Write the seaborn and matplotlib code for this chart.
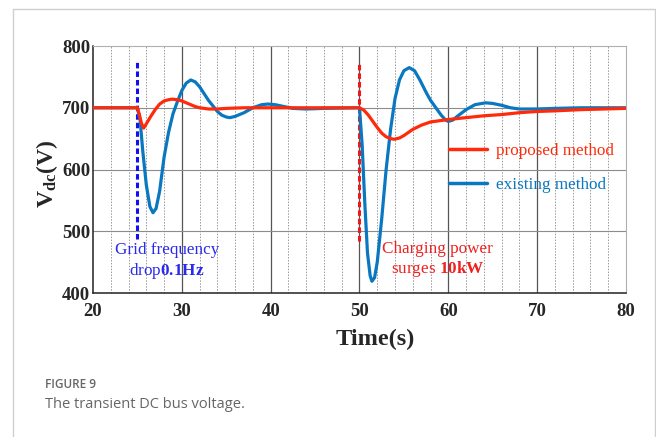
import numpy as np
import pandas as pd
import seaborn as sns
import matplotlib.pyplot as plt
from matplotlib.lines import Line2D

# existing method (blue)
t_existing = [20, 25.0, 25.3, 25.6, 26.0, 26.4, 26.75, 27.1, 27.5, 28.0, 28.5, 29.0, 29.5,
              30.0, 30.5, 31.0, 31.5, 32.0, 32.5, 33.0, 33.5, 34.0, 34.5, 35.0, 35.4,
              36.0, 37.0, 38.0, 39.0, 39.7, 40.5, 41.5, 42.5, 44.0, 46.0,
              50.0, 50.3, 50.6, 50.9, 51.2, 51.4, 51.7, 52.0, 52.5, 53.0, 53.5, 54.0,
              54.5, 55.0, 55.6, 56.2, 56.8, 57.5, 58.0, 58.6, 59.2, 59.7, 60.0, 60.5,
              61.0, 62.0, 63.0, 64.2, 65.0, 66.0, 67.0, 68.0, 70.0, 72.0, 75.0, 80.0]
v_existing = [700, 700, 680, 630, 575, 540, 530, 537, 565, 620, 660, 690, 710,
              728, 740, 745, 742, 734, 723, 712, 703, 694, 688, 685, 684,
              686, 692, 700, 705, 706, 705, 702, 699, 698, 699,
              700, 640, 545, 465, 428, 419, 425, 450, 520, 600, 665, 715,
              745, 760, 765, 760, 745, 725, 712, 700, 688, 680, 678, 680,
              686, 697, 705, 708, 707, 704, 700, 698, 698, 699, 700, 700]

# proposed method (red)
t_proposed = [20, 25.0, 25.2, 25.45, 25.7, 26.0, 26.5, 27.0, 27.5, 28.0, 28.5, 28.9,
              29.5, 30.0, 30.5, 31.0, 31.5, 32.0, 33.0, 34.0, 35.0, 37.0, 40.0,
              50.0, 50.5, 51.0, 51.5, 52.0, 52.5, 53.0, 53.5, 53.9, 54.5, 55.0, 55.5,
              56.0, 57.0, 58.0, 59.0, 60.0, 62.0, 64.0, 66.0, 68.0, 70.0, 72.0, 75.0, 80.0]
v_proposed = [700, 700, 690, 675, 667, 674, 686, 697, 706, 711, 713, 714,
              713, 711, 708, 705, 702, 700, 698, 698, 699, 700, 700,
              700, 696, 688, 678, 668, 659, 653, 650, 649, 651, 655, 660,
              665, 672, 677, 679, 681, 684, 687, 689, 692, 694, 695, 697, 699]

methods = ["proposed method", "existing method"]
colors = ["#ff2a0a", "#0a78c0"]
x_ticks = [20, 30, 40, 50, 60, 70, 80]
y_ticks = [400, 500, 600, 700, 800]

df = pd.concat([
    pd.DataFrame({"t": t_proposed, "v": v_proposed, "method": methods[0]}),
    pd.DataFrame({"t": t_existing, "v": v_existing, "method": methods[1]}),
])

sns.set_style("white")
plt.rcParams["font.family"] = ["Liberation Serif", "DejaVu Serif"]
plt.rcParams["mathtext.fontset"] = "custom"
plt.rcParams["mathtext.rm"] = "Liberation Serif"
plt.rcParams["mathtext.it"] = "Liberation Serif:italic"
plt.rcParams["mathtext.bf"] = "Liberation Serif:bold"

fig = plt.figure(figsize=(6.56, 4.37), dpi=100)
ax = fig.add_axes([0.1418, 0.3295, 0.8124, 0.5652])

# grid
for x in range(22, 80, 2):
    if x % 10:
        ax.axvline(x, color="#9a9a9a", lw=0.7, ls=(0, (1.5, 1.5)), zorder=0)
for x in x_ticks[1:-1]:
    ax.axvline(x, color="#555555", lw=0.9, zorder=0)
for y in y_ticks[1:-1]:
    ax.axhline(y, color="#8c8c8c", lw=0.8, zorder=0)

# disturbance markers
ax.plot([25, 25], [488, 776], color="#1010f0", lw=2.2, ls=(0, (1.8, 1.0)), zorder=1)
ax.plot([50, 50], [485, 771], color="#f01818", lw=2.2, ls=(0, (1.8, 1.0)), zorder=1)

sns.lineplot(data=df, x="t", y="v", hue="method", hue_order=methods,
             palette=colors, lw=2.3, ax=ax, zorder=3, legend=False)
# redraw red above blue
ax.lines[-2].set_zorder(4)

ax.set_xlim(20, 80)
ax.set_ylim(400, 800)
ax.set_xticks(x_ticks)
ax.set_yticks(y_ticks)
ax.tick_params(length=0, labelsize=13.5)
ax.tick_params(axis="x", pad=7)
ax.tick_params(axis="y", pad=2)
for lab in ax.get_xticklabels() + ax.get_yticklabels():
    lab.set_fontweight("bold")

for s in ["left", "bottom"]:
    ax.spines[s].set_color("#222222")
    ax.spines[s].set_linewidth(1.1)
for s in ["top", "right"]:
    ax.spines[s].set_color("#b0b0b0")
    ax.spines[s].set_linewidth(0.8)

ax.set_xlabel("Time(s)", fontsize=17.5, fontweight="bold")
ax.xaxis.set_label_coords((375 - 93) / 533, (293 - 329) / 247)
ax.set_ylabel(r"$\mathbf{V_{dc}(V)}$", fontsize=17)
ax.yaxis.set_label_coords((47 - 93) / 533, 0.5 + (170 - 174) / 247)
ax.yaxis.label.set_va("center")

# annotations
ax.text(28.3, 469, "Grid frequency", color="#2a2aee", fontsize=12.3,
        ha="center", va="center")
ax.text(28.3, 435, r"drop$\mathbf{0.1Hz}$", color="#2a2aee", fontsize=12.3,
        ha="center", va="center")
ax.text(58.8, 472, "Charging power", color="#ee2020", fontsize=12.3,
        ha="center", va="center")
ax.text(58.8, 439, r"surges $\mathbf{10kW}$", color="#ee2020", fontsize=12.3,
        ha="center", va="center")

handles = [Line2D([], [], color=c, lw=2.5) for c in colors]
leg = ax.legend(handles, methods, loc="center left", bbox_to_anchor=(0.64, 0.505),
                frameon=False, fontsize=12.3, handlelength=2.2, handletextpad=0.5,
                labelspacing=1.05, labelcolor=colors)

# card frame and caption
fig.add_artist(Line2D([13 / 656, 13 / 656], [0, 1 - 9 / 437], color="#cfcfcf", lw=1))
fig.add_artist(Line2D([13 / 656, 655 / 656], [1 - 9 / 437, 1 - 9 / 437], color="#cfcfcf", lw=1))
fig.add_artist(Line2D([655 / 656, 655 / 656], [0, 1 - 9 / 437], color="#cfcfcf", lw=1))
fig.text(45 / 656, 1 - 385 / 437, "FIGURE 9", family="Open Sans", fontsize=8.5,
         color="#666666", va="center", fontweight="semibold")
fig.text(45 / 656, 1 - 404 / 437, "The transient DC bus voltage.", family="Open Sans",
         fontsize=10.5, color="#666666", va="center")

fig.savefig("out.png", dpi=100)
